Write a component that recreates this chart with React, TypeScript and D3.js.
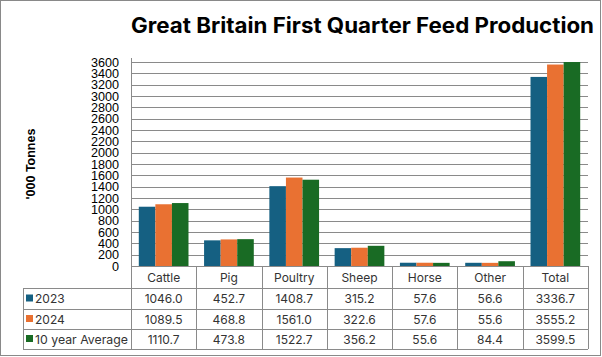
import React from "react";
import * as d3 from "d3";

const categories = ["Cattle", "Pig", "Poultry", "Sheep", "Horse", "Other", "Total"];
const seriesNames = ["2023", "2024", "10 year Average"];
const values2023 = [1046.0, 452.7, 1408.7, 315.2, 57.6, 56.6, 3336.7];
const values2024 = [1089.5, 468.8, 1561.0, 322.6, 57.6, 55.6, 3555.2];
const valuesAvg = [1110.7, 473.8, 1522.7, 356.2, 55.6, 84.4, 3599.5];
const yTicks = [0, 200, 400, 600, 800, 1000, 1200, 1400, 1600, 1800, 2000, 2200, 2400, 2600, 2800, 3000, 3200, 3400, 3600];
const colors = ["#156082", "#E97132", "#196B24"];

export default function App() {
  const W = 602, H = 357;
  const left = 131, right = 588, top = 62, bottom = 266;
  const series = [values2023, values2024, valuesAvg];

  const x = d3.scaleBand<string>().domain(categories).range([left, right]).paddingInner(0).paddingOuter(0);
  const inner = d3.scaleBand<string>().domain(seriesNames).range([0, x.bandwidth()]).paddingInner(0).paddingOuter(0.47);
  const y = d3.scaleLinear().domain([0, 3600]).range([bottom, top]);

  const tableLeft = 23;
  const rowLines = [bottom, 288, 309, 329, 349];
  const gridColor = "#8a8a8a";
  const tblColor = "#8a8a8a";
  const tblFont = "Inter, 'Open Sans', sans-serif";

  return (
    <svg width={W} height={H} style={{ position: "absolute", left: 0, top: 0 }}>
      <rect x={0} y={0} width={W} height={H} fill="#fff" />
      <rect x={0.5} y={0.5} width={600} height={355} fill="none" stroke="#898989" strokeWidth={1} />
      <text x={131} y={33} fontFamily="Inter, sans-serif" fontWeight={700} fontSize={21} fill="#000" textLength={463} lengthAdjust="spacingAndGlyphs">
        Great Britain First Quarter Feed Production
      </text>
      <text transform={`translate(35,164) rotate(-90)`} textAnchor="middle" fontFamily="'Liberation Sans', Arial, sans-serif" fontWeight={700} fontSize={12.5} fill="#000">
        '000 Tonnes
      </text>
      {yTicks.map((t) => (
        <g key={t}>
          {t > 0 && <line x1={left} x2={right} y1={Math.round(y(t)) + 0.5} y2={Math.round(y(t)) + 0.5} stroke={gridColor} strokeWidth={1} />}
          <text x={119} y={y(t) + 4.5} textAnchor="end" fontFamily="'Liberation Sans', Arial, sans-serif" fontSize={12.6} fill="#000">
            {t}
          </text>
        </g>
      ))}
      <line x1={left + 0.5} x2={left + 0.5} y1={top - 4} y2={bottom} stroke={gridColor} strokeWidth={1} />
      {categories.map((c, i) => (
        <g key={c}>
          {series.map((s, j) => (
            <rect key={j} x={(x(c) as number) + (inner(seriesNames[j]) as number)} y={y(s[i])} width={inner.bandwidth()} height={bottom - y(s[i])} fill={colors[j]} />
          ))}
        </g>
      ))}
      {/* table */}
      <g fontFamily={tblFont} fontSize={12} fill="#333">
        {rowLines.map((ry, k) => (
          <line key={k} x1={k === 0 ? left : tableLeft} x2={right} y1={ry + 0.5} y2={ry + 0.5} stroke={tblColor} strokeWidth={1} />
        ))}
        <line x1={tableLeft + 0.5} x2={tableLeft + 0.5} y1={rowLines[1]} y2={rowLines[4]} stroke={tblColor} />
        {categories.map((c, i) => (
          <line key={c} x1={Math.round(x(c) as number) + 0.5} x2={Math.round(x(c) as number) + 0.5} y1={bottom} y2={rowLines[4]} stroke={tblColor} />
        ))}
        <line x1={right + 0.5} x2={right + 0.5} y1={bottom} y2={rowLines[4]} stroke={tblColor} />
        {categories.map((c) => (
          <text key={c} x={(x(c) as number) + x.bandwidth() / 2} y={282} textAnchor="middle">
            {c}
          </text>
        ))}
        {seriesNames.map((n, j) => {
          const cy = (rowLines[j + 1] + rowLines[j + 2]) / 2;
          return (
            <g key={n}>
              <rect x={26} y={cy - 4} width={7} height={7} fill={colors[j]} />
              <text x={35} y={cy + 4.5} textLength={j === 2 ? 93 : undefined} lengthAdjust="spacingAndGlyphs">{n}</text>
              {series[j].map((v, i) => (
                <text key={i} x={(x(categories[i]) as number) + x.bandwidth() / 2} y={cy + 4.5} textAnchor="middle">
                  {v.toFixed(1)}
                </text>
              ))}
            </g>
          );
        })}
      </g>
    </svg>
  );
}
